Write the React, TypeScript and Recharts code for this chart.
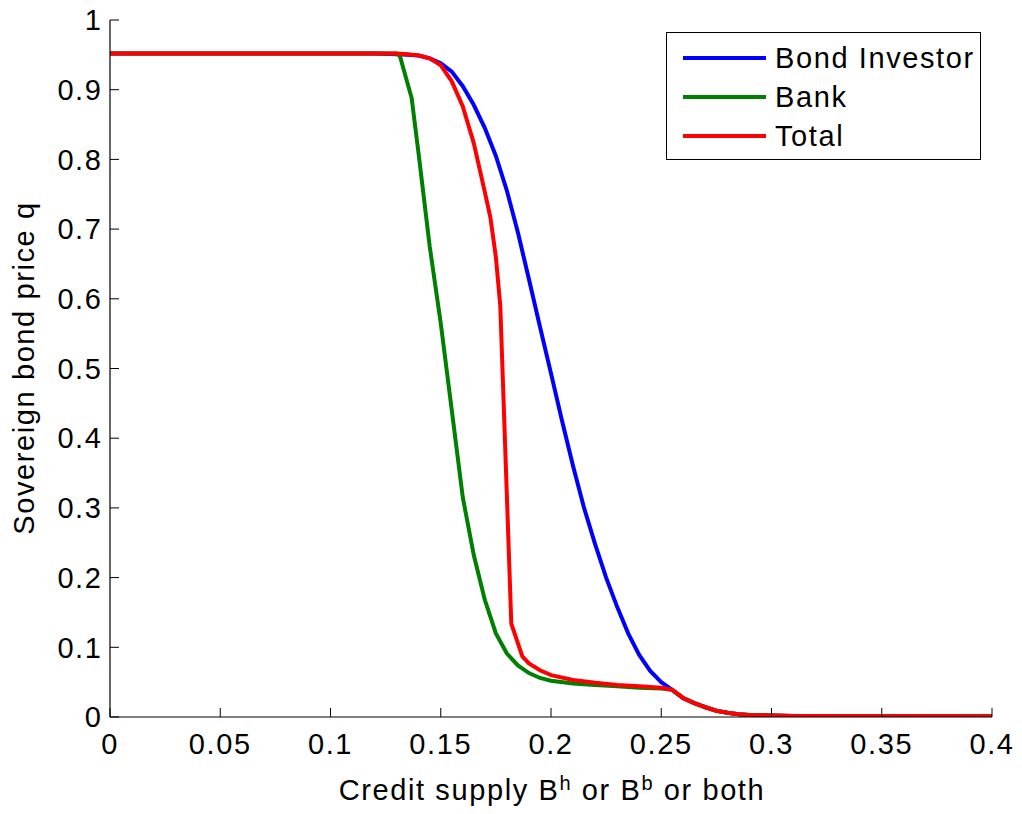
import { LineChart, Line, XAxis, YAxis, Legend, Label } from "recharts";

const FONT = "'Liberation Sans', Arial, Helvetica, sans-serif";
const SPACING = 1.6;

const SERIES_NAMES = ["Bond Investor", "Bank", "Total"];
const SERIES_COLORS = ["#0000FF", "#008000", "#FF0000"];

const X_TICKS = [0, 0.05, 0.1, 0.15, 0.2, 0.25, 0.3, 0.35, 0.4];
const Y_TICKS = [0, 0.1, 0.2, 0.3, 0.4, 0.5, 0.6, 0.7, 0.8, 0.9, 1];

// common tail once all three curves meet
const tailX = [0.26, 0.265, 0.27, 0.275, 0.28, 0.285, 0.29, 0.3, 0.31, 0.4];
const tailY = [0.027, 0.02, 0.014, 0.009, 0.006, 0.004, 0.003, 0.002, 0.0015, 0.001];

const investorX = [0, 0.12, 0.13, 0.135, 0.14, 0.145, 0.15, 0.155, 0.16, 0.165, 0.17, 0.175, 0.18, 0.185, 0.19, 0.195, 0.2, 0.205, 0.21, 0.215, 0.22, 0.225, 0.23, 0.235, 0.24, 0.245, 0.25, 0.255];
const investorY = [0.952, 0.952, 0.951, 0.95, 0.949, 0.945, 0.938, 0.926, 0.905, 0.878, 0.845, 0.805, 0.755, 0.695, 0.628, 0.56, 0.493, 0.425, 0.36, 0.3, 0.248, 0.2, 0.158, 0.12, 0.089, 0.066, 0.05, 0.039];

const bankX = [0, 0.125, 0.13, 0.1315, 0.1368, 0.14, 0.145, 0.15, 0.155, 0.16, 0.165, 0.17, 0.175, 0.18, 0.185, 0.19, 0.195, 0.2, 0.21, 0.22, 0.23, 0.24, 0.25, 0.255];
const bankY = [0.952, 0.952, 0.952, 0.948, 0.888, 0.807, 0.675, 0.565, 0.44, 0.315, 0.232, 0.168, 0.12, 0.091, 0.074, 0.063, 0.056, 0.052, 0.048, 0.046, 0.044, 0.042, 0.041, 0.039];

const totalX = [0, 0.13, 0.135, 0.14, 0.145, 0.15, 0.155, 0.16, 0.165, 0.17, 0.1725, 0.175, 0.177, 0.182, 0.187, 0.19, 0.195, 0.2, 0.21, 0.22, 0.23, 0.24, 0.25, 0.255];
const totalY = [0.952, 0.952, 0.951, 0.949, 0.945, 0.935, 0.912, 0.876, 0.823, 0.753, 0.717, 0.66, 0.59, 0.134, 0.087, 0.077, 0.067, 0.06, 0.053, 0.049, 0.046, 0.044, 0.042, 0.039];

const toPoints = (xs: number[], ys: number[]) =>
  xs.concat(tailX).map((x, i) => ({ x, y: ys.concat(tailY)[i] }));

const seriesData = [
  toPoints(investorX, investorY),
  toPoints(bankX, bankY),
  toPoints(totalX, totalY),
];

const fmt = (v: number) => String(Math.round(v * 100) / 100);

function LegendBox() {
  return (
    <div
      style={{
        width: 315,
        height: 128,
        border: "1.3px solid #000",
        boxSizing: "border-box",
        background: "#fff",
        position: "relative",
        fontFamily: FONT,
      }}
    >
      {SERIES_NAMES.map((name, i) => (
        <div
          key={name}
          style={{ position: "absolute", left: 16, top: 6 + i * 39, height: 38, display: "flex", alignItems: "center" }}
        >
          <div style={{ width: 83, height: 4, background: SERIES_COLORS[i] }} />
          <span style={{ marginLeft: 9, fontSize: 29, letterSpacing: SPACING, color: "#000", whiteSpace: "nowrap" }}>
            {name}
          </span>
        </div>
      ))}
    </div>
  );
}

export default function App() {
  const tickStyle = { fill: "#000", fontSize: 29, fontFamily: FONT, letterSpacing: SPACING };
  return (
    <div style={{ position: "absolute", left: 0, top: 0, width: 1022, height: 814, background: "#fff" }}>
      <LineChart width={1022} height={814} margin={{ top: 20, right: 30, bottom: 47, left: 30 }}>
        <XAxis
          xAxisId="b"
          type="number"
          dataKey="x"
          domain={[0, 0.4]}
          ticks={X_TICKS}
          interval={0}
          allowDataOverflow
          height={50}
          tickSize={-9}
          tickMargin={25}
          tickFormatter={fmt}
          tick={tickStyle}
          axisLine={{ stroke: "#000", strokeWidth: 1.2 }}
          tickLine={{ stroke: "#000" }}
        >
          <Label
            content={() => (
              <text
                x={552}
                y={800}
                textAnchor="middle"
                fontSize={29}
                fontFamily={FONT}
                letterSpacing={SPACING}
                fill="#000"
              >
                Credit supply B
                <tspan dy={-10} fontSize={20}>h</tspan>
                <tspan dy={10} fontSize={29}> or B</tspan>
                <tspan dy={-10} fontSize={20}>b</tspan>
                <tspan dy={10} fontSize={29}> or both</tspan>
              </text>
            )}
          />
        </XAxis>
        <XAxis
          xAxisId="t"
          orientation="top"
          type="number"
          domain={[0, 0.4]}
          ticks={X_TICKS}
          interval={0}
          allowDataOverflow
          height={0}
          tickSize={-9}
          tick={false}
          axisLine={{ stroke: "#000", strokeWidth: 1.2 }}
          tickLine={{ stroke: "#000" }}
        />
        <YAxis
          yAxisId="l"
          type="number"
          domain={[0, 1]}
          ticks={Y_TICKS}
          interval={0}
          allowDataOverflow
          width={80}
          tickSize={-9}
          tickMargin={16.5}
          tickFormatter={fmt}
          tick={tickStyle}
          axisLine={{ stroke: "#000", strokeWidth: 1.2 }}
          tickLine={{ stroke: "#000" }}
        >
          <Label
            content={() => (
              <text
                x={24}
                y={368}
                transform="rotate(-90 24 368)"
                textAnchor="middle"
                dominantBaseline="central"
                fontSize={29}
                fontFamily={FONT}
                letterSpacing={SPACING}
                fill="#000"
              >
                Sovereign bond price q
              </text>
            )}
          />
        </YAxis>
        <YAxis
          yAxisId="r"
          orientation="right"
          type="number"
          domain={[0, 1]}
          ticks={Y_TICKS}
          interval={0}
          allowDataOverflow
          width={0}
          tickSize={-9}
          tick={false}
          axisLine={{ stroke: "#000", strokeWidth: 1.2 }}
          tickLine={{ stroke: "#000" }}
        />
        {seriesData.map((d, i) => (
          <Line
            key={SERIES_NAMES[i]}
            xAxisId="b"
            yAxisId="l"
            data={d}
            dataKey="y"
            name={SERIES_NAMES[i]}
            type="linear"
            stroke={SERIES_COLORS[i]}
            strokeWidth={4}
            dot={false}
            isAnimationActive={false}
          />
        ))}
        <Legend
          layout="vertical"
          align="center"
          verticalAlign="middle"
          wrapperStyle={{ left: 666, top: 32, width: 315, height: 128 }}
          content={() => <LegendBox />}
        />
      </LineChart>
    </div>
  );
}
